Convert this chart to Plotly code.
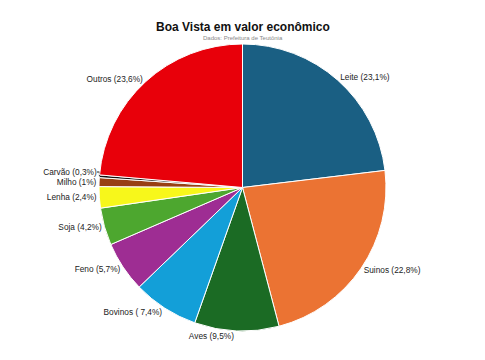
import plotly.graph_objects as go

categories = ["Leite", "Suinos", "Aves", "Bovinos", "Feno", "Soja", "Lenha", "Milho", "Carvão", "Outros"]
values = [23.1, 22.8, 9.5, 7.4, 5.7, 4.2, 2.4, 1.0, 0.3, 23.6]
label_texts = ["Leite (23,1%)", "Suinos (22,8%)", "Aves (9,5%)", "Bovinos ( 7,4%)", "Feno (5,7%)",
               "Soja (4,2%)", "Lenha (2,4%)", "Milho (1%)", "Carvão (0,3%)", "Outros (23,6%)"]
colors = ["#1a5f83", "#eb7333", "#1b6b24", "#139fd8", "#9e2d93", "#4da72f", "#f7f71b", "#983f14", "#111111", "#e8000a"]

FONT = "Liberation Sans, Arial, sans-serif"

fig = go.Figure(go.Pie(
    labels=categories,
    values=values,
    text=label_texts,
    textinfo="text",
    textposition="outside",
    sort=False,
    direction="clockwise",
    rotation=0,
    automargin=False,
    marker=dict(colors=colors, line=dict(color="white", width=1)),
    textfont=dict(family=FONT, size=8.3, color="#222"),
    showlegend=False,
    hoverinfo="label+value",
))

fig.update_layout(
    width=485, height=360,
    margin=dict(l=0, r=0, t=44, b=29, autoexpand=False),
    paper_bgcolor="white",
    plot_bgcolor="white",
)
fig.add_annotation(text="<b>Boa Vista em valor econômico</b>", xref="paper", yref="paper",
                   x=0.5, y=1, yshift=17, yanchor="middle", showarrow=False,
                   font=dict(family=FONT, size=12, color="#111"))
fig.add_annotation(text="Dados: Prefeitura de Teutônia", xref="paper", yref="paper",
                   x=0.5, y=1, yshift=6, yanchor="middle", showarrow=False,
                   font=dict(family=FONT, size=6, color="#888"))

fig.write_html("out.html")
